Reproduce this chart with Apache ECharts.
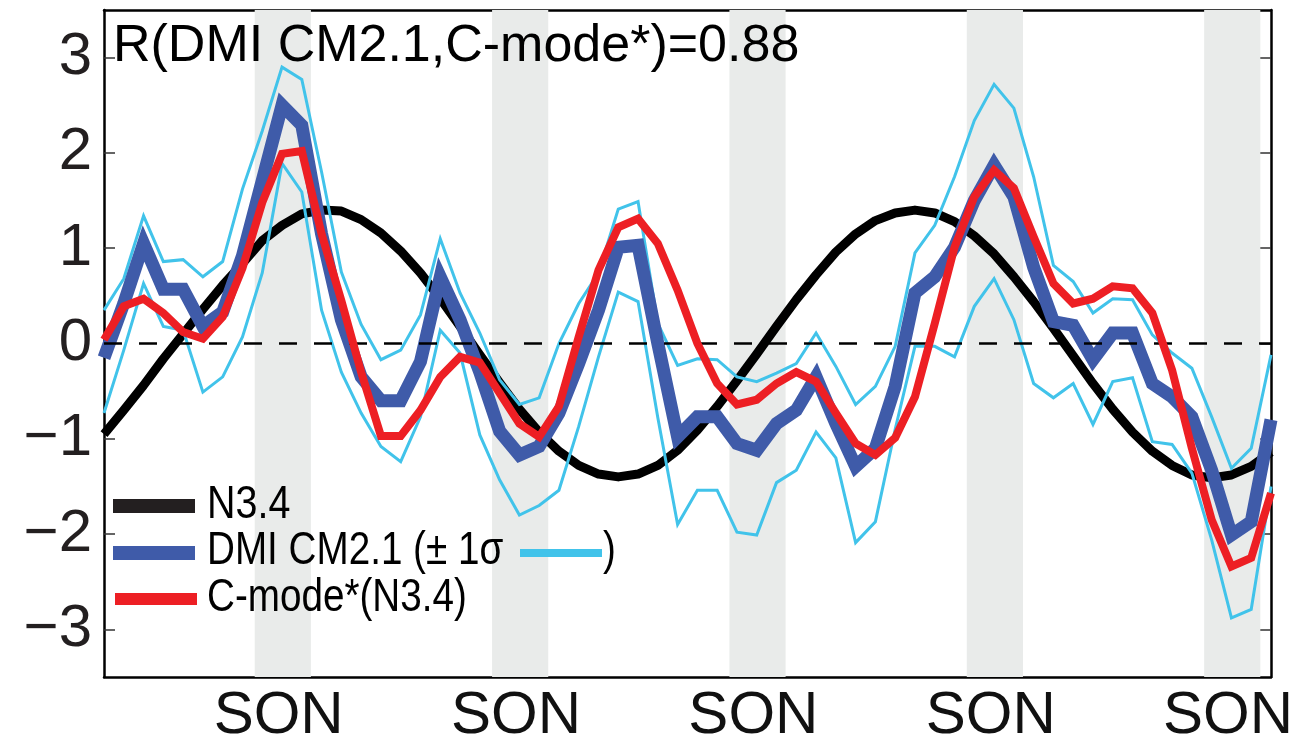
<!DOCTYPE html>
<html><head><meta charset="utf-8">
<script src="https://cdn.jsdelivr.net/npm/echarts@6/dist/echarts.min.js"></script>
<style>html,body{margin:0;padding:0;background:#fff}#c{width:1303px;height:747px}</style>
</head><body><div id="c"></div>
<script>
// Months 0..59 (Jan of year 1 .. Dec of year 5)
const monthCount = 60;
// SON seasons: index of September each year
const sonSeptember = [8, 20, 32, 44, 56];
const sonLabel = 'SON';
const yTicks = [-3, -2, -1, 0, 1, 2, 3];

const n34 = [-0.95,-0.70,-0.44,-0.16,0.10,0.36,0.61,0.84,1.08,1.24,
  1.36,1.40,1.39,1.30,1.16,0.97,0.74,0.47,0.18,-0.12,
  -0.41,-0.69,-0.93,-1.13,-1.28,-1.37,-1.40,-1.37,-1.28,-1.12,
  -0.91,-0.66,-0.39,-0.11,0.18,0.46,0.72,0.96,1.15,1.29,
  1.37,1.40,1.37,1.28,1.13,0.94,0.70,0.44,0.16,-0.13,
  -0.42,-0.69,-0.93,-1.13,-1.28,-1.38,-1.41,-1.38,-1.29,-1.14];

const dmi = [-0.15,0.42,1.05,0.57,0.57,0.18,0.33,0.92,1.71,2.50,
  2.29,1.15,0.25,-0.35,-0.60,-0.60,-0.19,0.70,0.25,-0.30,
  -0.92,-1.17,-1.08,-0.73,-0.21,0.35,1.01,1.03,0.00,-0.98,
  -0.77,-0.77,-1.05,-1.12,-0.84,-0.70,-0.35,-0.84,-1.29,-1.10,
  -0.45,0.53,0.70,1.01,1.50,1.87,1.54,0.80,0.23,0.19,
  -0.17,0.11,0.11,-0.42,-0.56,-0.77,-1.33,-2.01,-1.87,-0.80];

const dmiUpper = [0.35,0.68,1.34,0.86,0.88,0.70,0.86,1.62,2.23,2.90,
  2.77,1.80,0.75,0.20,-0.17,-0.07,0.30,1.10,0.53,0.11,
  -0.38,-0.64,-0.57,0.00,0.42,0.74,1.41,1.49,0.21,-0.23,
  -0.16,-0.17,-0.35,-0.40,-0.31,-0.21,0.11,-0.24,-0.64,-0.45,
  -0.03,0.95,1.24,1.75,2.34,2.72,2.47,1.75,0.82,0.65,
  0.32,0.47,0.46,0.09,-0.10,-0.26,-0.77,-1.31,-1.10,-0.12];

const dmiLower = [-0.73,-0.07,0.63,0.18,0.14,-0.51,-0.35,0.07,0.74,1.89,
  1.59,0.35,-0.30,-0.73,-1.08,-1.24,-0.77,0.14,-0.10,-0.96,
  -1.43,-1.80,-1.70,-1.54,-0.87,-0.14,0.54,0.44,-0.78,-1.90,
  -1.54,-1.54,-1.98,-2.01,-1.46,-1.33,-0.93,-1.20,-2.09,-1.87,
  -0.90,-0.03,-0.03,-0.14,0.39,0.68,0.25,-0.42,-0.57,-0.42,
  -0.85,-0.40,-0.36,-1.03,-1.06,-1.36,-2.06,-2.88,-2.79,-1.50];

const cmode = [0.04,0.39,0.47,0.32,0.12,0.05,0.28,0.79,1.48,1.99,
  2.02,1.15,0.45,-0.30,-0.97,-0.97,-0.70,-0.35,-0.14,-0.20,
  -0.52,-0.84,-0.98,-0.66,0.07,0.77,1.22,1.31,1.05,0.56,
  0.00,-0.42,-0.64,-0.59,-0.42,-0.30,-0.40,-0.73,-1.05,-1.17,
  -0.99,-0.56,0.21,1.01,1.54,1.82,1.63,1.12,0.63,0.42,
  0.47,0.60,0.58,0.32,-0.28,-1.10,-1.85,-2.34,-2.25,-1.57];

const annotation = 'R(DMI CM2.1,C-mode*)=0.88';

const pts = arr => arr.map((v, i) => [i, v]);
const sonTicks = [];
sonSeptember.forEach(s => { sonTicks.push(s, s + 1, s + 2); });
const sonCenters = sonSeptember.map(s => s + 0.83);
const bands = sonSeptember.map(s => [{ xAxis: s - 0.38 }, { xAxis: s + 2.46 }]);

const FONT = "'Liberation Sans', Arial, Helvetica, sans-serif";
const COL = { black: '#000000', blue: '#3f5ba9', red: '#ed1f24', cyan: '#41c3ea', band: '#e9ebea' };

const frame = { show: true, onZero: false, lineStyle: { color: '#000', width: 2.5 } };
const tickStyle = { color: '#333', width: 1.5 };

const chart = echarts.init(document.getElementById('c'), null, { renderer: 'canvas' });
const option = {
  animation: false,
  backgroundColor: '#ffffff',
  grid: { left: 104, right: 32, top: 10, bottom: 70, containLabel: false },
  xAxis: [
    { type: 'value', min: 0, max: monthCount - 1, position: 'bottom',
      axisLine: frame,
      axisTick: { show: true, inside: true, length: 10, customValues: sonTicks, lineStyle: tickStyle },
      axisLabel: { show: true, customValues: sonCenters, formatter: () => sonLabel,
        fontSize: 60, fontFamily: FONT, color: '#111', margin: 9 },
      splitLine: { show: false } },
    { type: 'value', min: 0, max: monthCount - 1, position: 'top',
      axisLine: frame,
      axisTick: { show: true, inside: true, length: 10, customValues: sonTicks, lineStyle: tickStyle },
      axisLabel: { show: false }, splitLine: { show: false } }
  ],
  yAxis: [
    { type: 'value', min: -3.5, max: 3.5, position: 'left',
      axisLine: frame,
      axisTick: { show: true, inside: true, length: 11, customValues: yTicks, lineStyle: tickStyle },
      axisLabel: { show: true, customValues: yTicks,
        formatter: v => (v < 0 ? '\u2212' + Math.abs(v) : String(v)),
        fontSize: 60, fontFamily: FONT, color: '#231f20', margin: 12 },
      splitLine: { show: false } },
    { type: 'value', min: -3.5, max: 3.5, position: 'right',
      axisLine: frame,
      axisTick: { show: true, inside: true, length: 11, customValues: yTicks, lineStyle: tickStyle },
      axisLabel: { show: false }, splitLine: { show: false } }
  ],
  series: [
    { type: 'line', name: 'bands', data: [], z: 0, silent: true,
      markArea: { silent: true, itemStyle: { color: COL.band }, data: bands } },
    { type: 'line', name: 'zero', data: [], z: 1, silent: true,
      markLine: { silent: true, symbol: 'none', label: { show: false },
        lineStyle: { color: '#000', width: 2.5, type: [18, 17] }, data: [{ yAxis: 0 }] } },
    { type: 'line', name: 'N3.4', data: pts(n34), showSymbol: false, z: 2,
      lineStyle: { color: COL.black, width: 9, join: 'round' } },
    { type: 'line', name: 'DMI upper', data: pts(dmiUpper), showSymbol: false, z: 3,
      lineStyle: { color: COL.cyan, width: 3, join: 'miter' } },
    { type: 'line', name: 'DMI lower', data: pts(dmiLower), showSymbol: false, z: 3,
      lineStyle: { color: COL.cyan, width: 3, join: 'miter' } },
    { type: 'line', name: 'DMI CM2.1', data: pts(dmi), showSymbol: false, z: 4,
      lineStyle: { color: COL.blue, width: 13, join: 'miter' } },
    { type: 'line', name: 'C-mode*(N3.4)', data: pts(cmode), showSymbol: false, z: 5,
      lineStyle: { color: COL.red, width: 8, join: 'miter' } }
  ],
  graphic: [
    { type: 'text', x: 113, y: 21, z: 10,
      style: { text: annotation, fontSize: 52, fontFamily: FONT, fill: '#000', verticalAlign: 'top' } },
    { type: 'rect', z: 10, shape: { x: 113, y: 499, width: 82, height: 14 }, style: { fill: '#231f20' } },
    { type: 'rect', z: 10, shape: { x: 113, y: 546, width: 82, height: 14 }, style: { fill: COL.blue } },
    { type: 'rect', z: 10, shape: { x: 115, y: 593, width: 82, height: 12 }, style: { fill: COL.red } },
    { type: 'rect', z: 10, shape: { x: 520, y: 549, width: 82, height: 8 }, style: { fill: COL.cyan } },
    { type: 'text', x: 207, y: 505, scaleX: 0.84, z: 10,
      style: { text: 'N3.4', fontSize: 47, fontFamily: FONT, fill: '#000', verticalAlign: 'middle' } },
    { type: 'text', x: 207, y: 551, scaleX: 0.84, z: 10,
      style: { text: 'DMI CM2.1 (\u00b1 1\u03c3', fontSize: 46, fontFamily: FONT, fill: '#000', verticalAlign: 'middle' } },
    { type: 'text', x: 603, y: 551, scaleX: 0.84, z: 10,
      style: { text: ')', fontSize: 46, fontFamily: FONT, fill: '#000', verticalAlign: 'middle' } },
    { type: 'text', x: 207, y: 598, scaleX: 0.84, z: 10,
      style: { text: 'C-mode*(N3.4)', fontSize: 46, fontFamily: FONT, fill: '#000', verticalAlign: 'middle' } }
  ]
};
chart.setOption(option);
</script>
</body></html>
